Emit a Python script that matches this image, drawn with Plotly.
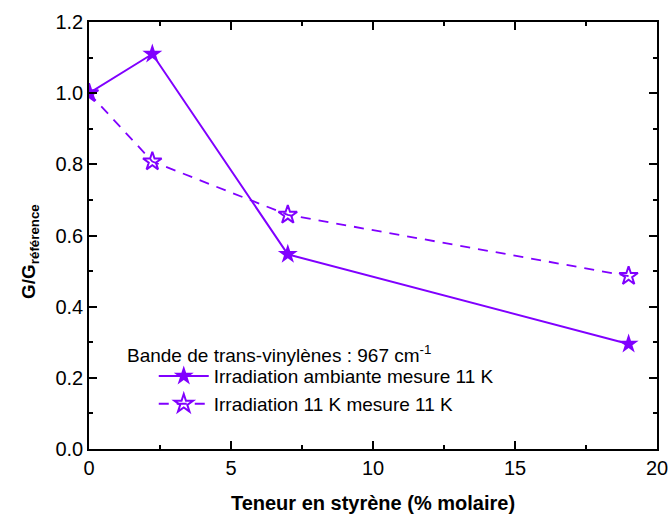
import plotly.graph_objects as go

styrene = [0, 2.23, 7, 19]
g_ambiante = [1.0, 1.11, 0.547, 0.295]
g_11k = [1.0, 0.808, 0.658, 0.486]
x_ticks = [0, 5, 10, 15, 20]
y_ticks = [0.0, 0.2, 0.4, 0.6, 0.8, 1.0, 1.2]

color = "#8000ff"
font = "Liberation Sans, Arial, sans-serif"

fig = go.Figure()
fig.add_trace(go.Scatter(
    x=styrene, y=g_ambiante, mode="lines+markers",
    name="Irradiation ambiante mesure 11 K",
    line=dict(color=color, width=2),
    marker=dict(symbol="star", size=15, color=color),
    cliponaxis=True,
))
fig.add_trace(go.Scatter(
    x=styrene, y=g_11k, mode="lines+markers",
    name="Irradiation 11 K mesure 11 K",
    line=dict(color=color, width=1.8, dash="10px,8px"),
    marker=dict(symbol="star-open", size=14, color=color, line=dict(width=2, color=color)),
    cliponaxis=True,
))

axis_common = dict(
    showline=True, linecolor="black", linewidth=1.5, mirror="allticks",
    ticks="inside", ticklen=8, tickwidth=1.5, tickcolor="black",
    showgrid=False, zeroline=False, automargin=False,
    tickfont=dict(family=font, size=20, color="black"),
)

fig.update_xaxes(
    range=[0, 20], tickvals=x_ticks, ticktext=[str(v) for v in x_ticks],
    minor=dict(ticks="inside", ticklen=4, tickwidth=1.5, dtick=2.5, tick0=0, tickcolor="black"),
    title=dict(text="<b>Teneur en styrène (% molaire)</b>", font=dict(family=font, size=20, color="black"), standoff=18),
    **axis_common,
)
fig.update_yaxes(
    range=[0, 1.2], tickvals=y_ticks, ticktext=[f"{v:.1f}" for v in y_ticks],
    minor=dict(ticks="inside", ticklen=4, tickwidth=1.5, dtick=0.1, tick0=0, tickcolor="black"),
    **axis_common,
)

plot_l, plot_r, plot_t, plot_b = 89, 15, 22, 70
pw = 672 - plot_l - plot_r
ph = 519 - plot_t - plot_b

fig.add_annotation(
    x=(30 - plot_l) / pw, y=(449 - 252) / ph, xref="paper", yref="paper",
    text="<b>G/G<sub>référence</sub></b>", textangle=-90,
    showarrow=False, font=dict(family=font, size=19, color="black"), xanchor="center", yanchor="middle",
)
fig.add_annotation(
    x=(125 - plot_l) / pw, y=(449 - 354) / ph, xref="paper", yref="paper",
    text="Bande de trans-vinylènes : 967 cm<sup>-1</sup>",
    showarrow=False, font=dict(family=font, size=19, color="black"), xanchor="left", yanchor="middle",
)

fig.update_layout(
    width=672, height=519,
    margin=dict(l=plot_l, r=plot_r, t=plot_t, b=plot_b),
    paper_bgcolor="white", plot_bgcolor="white",
    font=dict(family=font, color="black"),
    legend=dict(
        x=0.114, y=0.215, xanchor="left", yanchor="top",
        font=dict(family=font, size=19, color="black"),
        bgcolor="rgba(0,0,0,0)", tracegroupgap=0, itemwidth=50,
    ),
)

fig.write_html(
    "out.html",
    config={"displayModeBar": False},
    post_script="document.body.style.margin='0';document.body.style.overflow='hidden';",
)
